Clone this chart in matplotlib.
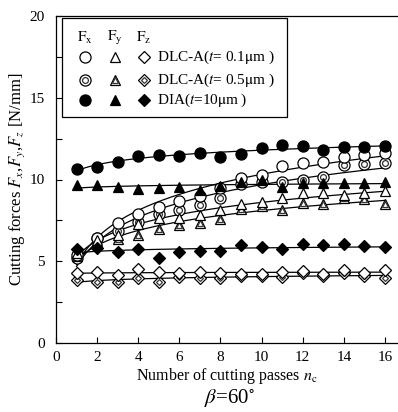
import matplotlib
matplotlib.use("Agg")
import matplotlib.pyplot as plt
from matplotlib.patches import Rectangle
import numpy as np

plt.rcParams["font.family"] = ["Liberation Serif", "DejaVu Serif"]
plt.rcParams["mathtext.fontset"] = "stix"

passes = np.arange(1, 17)

# DLC-A (t=0.1um)
fx_01 = [5.4, 6.4, 7.36, 7.89, 8.3, 8.68, 9.0, 9.45, 10.1, 10.3, 10.8, 11.0, 11.1, 11.4, 11.5, 11.6]
fy_01 = [5.5, 6.3, 6.6, 7.28, 7.63, 7.63, 7.83, 8.13, 8.5, 8.6, 8.85, 9.15, 9.15, 9.05, 9.15, 9.3]
fz_01 = [4.26, 4.32, 4.16, 4.5, 4.36, 4.26, 4.32, 4.26, 4.2, 4.2, 4.36, 4.42, 4.2, 4.46, 4.26, 4.46]
# DLC-A (t=0.5um)
fx_05 = [5.2, 6.4, 6.85, 7.42, 7.87, 8.13, 8.44, 8.85, 9.7, 9.87, 9.87, 9.95, 10.15, 10.89, 10.95, 11.0]
fy_05 = [5.3, 6.2, 6.34, 6.6, 6.95, 7.22, 7.32, 7.57, 8.2, 8.4, 8.13, 8.54, 8.52, 8.85, 8.79, 8.48]
fz_05 = [3.85, 3.75, 3.75, 3.95, 3.75, 4.06, 4.0, 4.0, 4.1, 4.1, 4.06, 4.26, 4.1, 4.26, 4.1, 3.95]
# DIA (t=10um)
fx_dia = [10.62, 10.74, 11.09, 11.44, 11.52, 11.46, 11.62, 11.36, 11.56, 11.9, 12.1, 12.07, 11.8, 11.97, 12.0, 12.07]
fy_dia = [9.66, 9.66, 9.52, 9.42, 9.46, 9.56, 9.36, 9.6, 9.87, 9.97, 9.52, 9.77, 9.77, 9.8, 9.8, 9.87]
fz_dia = [5.73, 5.79, 5.55, 5.73, 5.22, 5.55, 5.63, 5.63, 5.99, 5.89, 5.73, 6.03, 5.99, 6.03, 5.93, 5.89]

legend_labels = [r"DLC-A($t$= 0.1$\mathrm{\mu}$m )", r"DLC-A($t$= 0.5$\mathrm{\mu}$m )", r"DIA($t$=10$\mathrm{\mu}$m )"]

fig = plt.figure(figsize=(3.98, 4.12), dpi=100)
ax = fig.add_axes([56 / 398, 1 - 343 / 412, 341.3 / 398, 327 / 412])

xs = np.linspace(1, 16, 200)


def fitline(y):
    b, a = np.polyfit(np.log(passes), y, 1)
    ax.plot(xs, a + b * np.log(xs), color="black", lw=0.9, zorder=2)


for y in [fx_01, fy_01, fz_01, fx_05, fy_05, fz_05, fx_dia, fy_dia, fz_dia]:
    fitline(y)

ms = {"o": 8.0, "^": 7.8, "D": 6.2}
inner = {"o": 4.2, "^": 3.8, "D": 3.0}


def single(x, y, m, filled, **kw):
    ax.plot(x, y, ls="none", marker=m, ms=ms[m], mfc="black" if filled else "white",
            mec="black", mew=0.9, zorder=3, **kw)


def double(x, y, m, **kw):
    ax.plot(x, y, ls="none", marker=m, ms=ms[m], mfc="white", mec="black", mew=0.9, zorder=3, **kw)
    ax.plot(x, y, ls="none", marker=m, ms=inner[m], mfc="white", mec="#333333", mew=0.9, zorder=3, **kw)


for m, y in zip(["o", "^", "D"], [fx_05, fy_05, fz_05]):
    double(passes, y, m)
for m, y in zip(["o", "^", "D"], [fx_01, fy_01, fz_01]):
    single(passes, y, m, False)
for m, y in zip(["o", "^", "D"], [fx_dia, fy_dia, fz_dia]):
    single(passes, y, m, True)

ax.set_xlim(0, 16.6)
ax.set_ylim(0, 20)
ax.set_xticks(range(0, 17, 2))
ax.set_yticks([0, 5, 10, 15, 20])
ax.set_yticks([2.5, 7.5, 12.5, 17.5], minor=True)
ax.tick_params(direction="in", length=4, labelsize=11, width=0.8)
ax.tick_params(which="minor", direction="in", length=4, width=0.8)
ax.tick_params(axis="x", pad=6)
ax.tick_params(axis="y", pad=8)
ax.spines["right"].set_visible(False)
for s in ["left", "bottom", "top"]:
    ax.spines[s].set_linewidth(0.9)

ax.set_xlabel(r"Number of cutting passes $n_\mathrm{c}$", fontsize=11.5, labelpad=1)
ax.set_ylabel(r"Cutting forces $F_x$,$F_y$,$F_z$ [N/mm]", fontsize=12, labelpad=2)
fig.text(229 / 398, 1 - 398 / 412, r"$\beta$=60$^{\circ}$", fontsize=15, ha="center", va="center")

# legend box
tr = ax.transAxes


def axp(px, py):
    return ((px - 56) / 341.3, (343 - py) / 327)


x0, y0 = axp(62, 117)
x1, y1 = axp(287, 18)
ax.add_patch(Rectangle((x0, y0), x1 - x0, y1 - y0, transform=tr, fc="white", ec="black", lw=0.9, zorder=5))
cols = [85, 115, 144]
for cx, name in zip(cols, ["x", "y", "z"]):
    px, py = axp(cx, 38)
    ax.text(px, py, r"$\mathrm{F}_\mathrm{%s}$" % name, transform=tr, ha="center", va="center", fontsize=11, zorder=6)
rows = [57, 80, 100]
for r, lab, kind in zip(rows, legend_labels, ["open", "double", "filled"]):
    for cx, m in zip(cols, ["o", "^", "D"]):
        px, py = axp(cx, r)
        if kind == "double":
            ax.plot(px, py, marker=m, ms=ms[m], mfc="white", mec="black", mew=0.9, transform=tr, zorder=6, clip_on=False)
            ax.plot(px, py, marker=m, ms=inner[m], mfc="white", mec="#333333", mew=0.9, transform=tr, zorder=6, clip_on=False)
        else:
            ax.plot(px, py, marker=m, ms=ms[m], mfc="black" if kind == "filled" else "white",
                    mec="black", mew=0.9, transform=tr, zorder=6, clip_on=False)
    px, py = axp(157, r)
    ax.text(px, py, lab, transform=tr, ha="left", va="center", fontsize=11, zorder=6)

fig.savefig("out.png", dpi=100)
